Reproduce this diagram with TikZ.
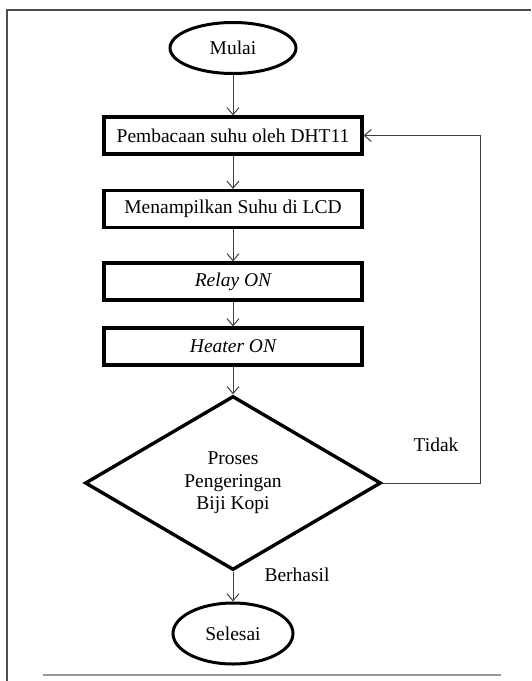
\documentclass[tikz,border=0pt]{standalone}
\usepackage{fontspec}
\setmainfont{Liberation Serif}
\usetikzlibrary{shapes.geometric,arrows.meta,positioning}
\tikzstyle{block} = [rectangle, draw, line width=3.2pt, minimum width=258pt,
    minimum height=37pt, text centered, inner sep=0pt]
\tikzstyle{terminal} = [ellipse, draw, line width=3pt, inner sep=0pt]
\tikzstyle{decision} = [diamond, draw, line width=3.4pt, minimum width=296pt,
    minimum height=174pt, align=center, inner sep=0pt]
\tikzstyle{line} = [draw, line width=1pt, black!75, -{Straight Barb[length=7pt,width=12pt]}]
\tikzstyle{tag} = [inner sep=0pt]

\begin{document}
\begin{tikzpicture}[x=1pt, y=-1pt, auto,
    font=\fontsize{19.5}{22.5}\selectfont]
\useasboundingbox (0,0) rectangle (531,681);
% frame of the page
\draw [black!70, line width=2pt] (7,681) -- (7,10) -- (531,10);
\draw [black!40, line width=1.5pt] (43,675) -- (501,675);
\node [terminal, minimum width=126pt, minimum height=51pt] (mulai) at (233,48) {Mulai};
\node [block, below of=mulai, node distance=87.5pt] (baca) {Pembacaan suhu oleh DHT11};
\node [block, below of=baca, node distance=73.5pt] (tampil) {Menampilkan Suhu di LCD};
\node [block, below of=tampil, node distance=72.5pt] (relay) {\itshape Relay ON};
\node [block, below of=relay, node distance=65pt] (heater) {\itshape Heater ON};
\node [decision, below of=heater, node distance=136.5pt] (proses) {Proses\\Pengeringan\\Biji Kopi};
\node [terminal, minimum width=120pt, minimum height=61pt, below of=proses,
    node distance=150.5pt] (selesai) {Selesai};
\coordinate (balik) at (480,0);
\node [tag] (tidak) at (436,445) {Tidak};
\node [tag] (berhasil) at (297,575) {Berhasil};
\path [line] (mulai) -- (baca);
\path [line] (baca) -- (tampil);
\path [line] (tampil) -- (relay);
\path [line] (relay) -- (heater);
\path [line] (heater) -- (proses);
\path [line] (proses) -- (selesai);
\path [line] (proses.east) -- (proses.east -| balik) |- (baca.east);
\end{tikzpicture}
\end{document}
